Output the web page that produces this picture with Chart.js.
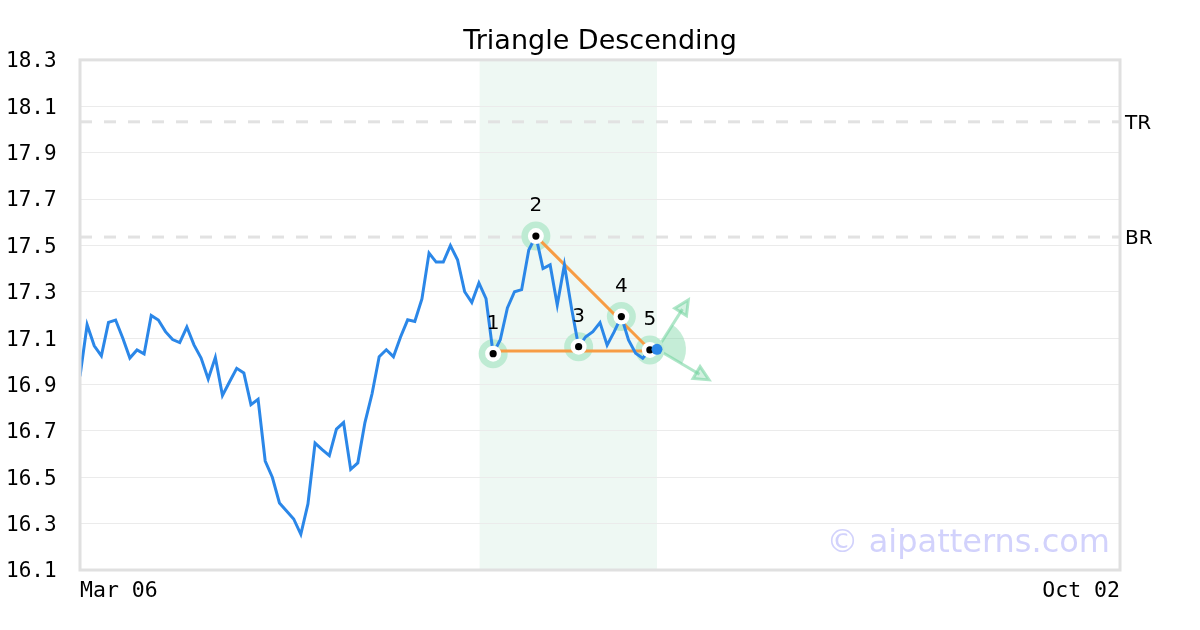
<!DOCTYPE html>
<html>
<head>
<meta charset="utf-8">
<script src="https://cdn.jsdelivr.net/npm/chart.js@4/dist/chart.umd.min.js"></script>
<style>
  html, body { margin: 0; padding: 0; background: #fff; }
  #wrap { width: 1200px; height: 630px; }
</style>
</head>
<body>
<div id="wrap"><canvas id="myChart" width="1200" height="630"></canvas></div>
<script>
// price series, one value per trading day (index 0 = Mar 06)
let prices = [
  16.935, 17.158, 17.067, 17.024, 17.168, 17.178, 17.101, 17.014, 17.049, 17.032,
  17.198, 17.178, 17.128, 17.094, 17.081, 17.148, 17.071, 17.014, 16.924, 17.017,
  16.853, 16.912, 16.970, 16.950, 16.813, 16.836, 16.570, 16.500, 16.389, 16.354,
  16.320, 16.254, 16.385, 16.647, 16.619, 16.593, 16.708, 16.736, 16.534, 16.562,
  16.736, 16.860, 17.020, 17.050, 17.020, 17.105, 17.179, 17.172, 17.269, 17.467,
  17.428, 17.428, 17.499, 17.438, 17.300, 17.254, 17.338, 17.270, 17.033, 17.093,
  17.230, 17.300, 17.309, 17.480, 17.540, 17.400, 17.416, 17.243, 17.416, 17.230,
  17.063, 17.106, 17.128, 17.167, 17.070, 17.128, 17.193, 17.092, 17.035, 17.013,
  17.049, 17.052
];
let lastIndex = 146;            // Oct 02
let xTickLabels = ['Mar 06', 'Oct 02'];
let yMin = 16.1, yMax = 18.3, yStep = 0.2;

// pattern pivots
let pivotIdx = [58, 64, 70, 76, 80];
let pivotVal = [17.033, 17.54, 17.063, 17.193, 17.049];
let pivotLabels = ['1', '2', '3', '4', '5'];

// triangle lines
let supportLine = [[58, 17.045], [80, 17.045]];
let resistLine = [[64, 17.54], [80, 17.05]];

// horizontal levels
let levelNames = ['TR', 'BR'];
let levelVals = [18.033, 17.536];

// highlighted window and breakout arrows
let boxStart = 56.1, boxEnd = 81;
let arrowTips = [[85.4, 17.265], [88.3, 16.92]];

let series = prices.map(function (v, i) { return {x: i, y: v}; });
let pivots = pivotIdx.map(function (x, i) { return {x: x, y: pivotVal[i]}; });
let lastPoint = [{x: prices.length - 1, y: prices[prices.length - 1]}];

function toPts(arr) { return arr.map(function (p) { return {x: p[0], y: p[1]}; }); }

function drawArrow(ctx, x0, y0, x1, y1) {
  let a = Math.atan2(y1 - y0, x1 - x0);
  ctx.beginPath();
  ctx.moveTo(x0, y0);
  ctx.lineTo(x1 - 11 * Math.cos(a), y1 - 11 * Math.sin(a));
  ctx.stroke();
  ctx.beginPath();
  ctx.moveTo(x1, y1);
  ctx.lineTo(x1 - 16 * Math.cos(a - 0.45), y1 - 16 * Math.sin(a - 0.45));
  ctx.lineTo(x1 - 16 * Math.cos(a + 0.45), y1 - 16 * Math.sin(a + 0.45));
  ctx.closePath();
  ctx.fill();
  ctx.stroke();
}

let patternPlugin = {
  id: 'pattern',
  beforeDraw(chart) {
    let {ctx, chartArea: area, scales: {x}} = chart;
    let x0 = x.getPixelForValue(boxStart), x1 = x.getPixelForValue(boxEnd);
    ctx.save();
    ctx.fillStyle = '#eef8f3';
    ctx.fillRect(x0, area.top, x1 - x0, area.bottom - area.top);
    ctx.restore();
  },
  beforeDatasetsDraw(chart) {
    let {ctx, chartArea: area, scales: {x, y}} = chart;
    ctx.save();
    // dashed levels
    ctx.strokeStyle = '#e2e2e2';
    ctx.lineWidth = 3;
    ctx.setLineDash([12, 12]);
    levelVals.forEach(function (v) {
      let py = y.getPixelForValue(v);
      ctx.beginPath();
      ctx.moveTo(area.left, py);
      ctx.lineTo(area.right, py);
      ctx.stroke();
    });
    ctx.setLineDash([]);

    // breakout cone + arrows
    let cx = x.getPixelForValue(lastPoint[0].x), cy = y.getPixelForValue(lastPoint[0].y);
    let tips = arrowTips.map(function (t) { return [x.getPixelForValue(t[0]), y.getPixelForValue(t[1])]; });
    let a0 = Math.atan2(tips[0][1] - cy, tips[0][0] - cx);
    let a1 = Math.atan2(tips[1][1] - cy, tips[1][0] - cx);
    ctx.fillStyle = 'rgba(110, 210, 155, 0.4)';
    ctx.beginPath();
    ctx.moveTo(cx, cy);
    ctx.arc(cx, cy, 29, a0, a1);
    ctx.closePath();
    ctx.fill();

    ctx.strokeStyle = 'rgba(110, 210, 155, 0.55)';
    ctx.fillStyle = 'rgba(110, 210, 155, 0.3)';
    ctx.lineWidth = 3;
    tips.forEach(function (t) { drawArrow(ctx, cx, cy, t[0], t[1]); });
    ctx.restore();
  },
  afterDatasetsDraw(chart) {
    let {ctx, chartArea: area, scales: {x, y}} = chart;
    ctx.save();
    // pivot numbers
    ctx.fillStyle = '#000';
    ctx.font = '20px "DejaVu Sans"';
    ctx.textAlign = 'center';
    ctx.textBaseline = 'middle';
    pivots.forEach(function (p, i) {
      ctx.fillText(pivotLabels[i], x.getPixelForValue(p.x), y.getPixelForValue(p.y) - 30);
    });

    // watermark
    ctx.fillStyle = '#d2d2fc';
    ctx.font = '32px "DejaVu Sans"';
    ctx.textAlign = 'right';
    ctx.textBaseline = 'alphabetic';
    ctx.fillText('\u00a9 aipatterns.com', area.right - 10, area.bottom - 18);
    ctx.restore();
  },
  afterDraw(chart) {
    let {ctx, chartArea: area, scales: {y}} = chart;
    ctx.save();
    ctx.strokeStyle = '#e0e0e0';
    ctx.lineWidth = 3;
    ctx.strokeRect(area.left, area.top, area.right - area.left, area.bottom - area.top);

    ctx.fillStyle = '#000';
    ctx.font = '20px "DejaVu Sans"';
    ctx.textAlign = 'left';
    ctx.textBaseline = 'middle';
    levelVals.forEach(function (v, i) {
      ctx.fillText(levelNames[i], area.right + 5, y.getPixelForValue(v) + 2);
    });
    ctx.restore();
  }
};

let green = 'rgb(190, 235, 211)';
let orange = 'rgb(247, 156, 68)';
let blue = 'rgb(43, 135, 232)';

let myChart = document.getElementById('myChart').getContext('2d');

let patternChart = new Chart(myChart, {
  type: 'line',
  data: {
    datasets: [{
      type: 'scatter',
      data: lastPoint,
      pointRadius: 5.5,
      pointBackgroundColor: blue,
      pointBorderWidth: 0,
      order: 0
    }, {
      type: 'scatter',
      data: pivots,
      pointRadius: 3.6,
      pointBackgroundColor: '#000',
      pointBorderWidth: 0,
      order: 1
    }, {
      type: 'scatter',
      data: pivots,
      pointRadius: 8,
      pointBackgroundColor: '#fff',
      pointBorderWidth: 0,
      order: 2
    }, {
      data: series,
      borderColor: blue,
      borderWidth: 3,
      pointRadius: 0,
      tension: 0,
      order: 3
    }, {
      data: toPts(supportLine),
      borderColor: orange,
      borderWidth: 3,
      pointRadius: 0,
      order: 4
    }, {
      data: toPts(resistLine),
      borderColor: orange,
      borderWidth: 3,
      pointRadius: 0,
      order: 4
    }, {
      type: 'scatter',
      data: pivots,
      pointRadius: 14.5,
      pointBackgroundColor: green,
      pointBorderWidth: 0,
      order: 5
    }]
  },
  options: {
    responsive: false,
    animation: false,
    layout: { padding: { left: 6, right: 6, top: 0, bottom: 0 } },
    plugins: {
      legend: { display: false },
      tooltip: { enabled: false },
      title: {
        display: true,
        text: 'Triangle Descending',
        color: '#000',
        font: { family: 'DejaVu Sans', size: 27, weight: 'normal' },
        padding: { top: 26, bottom: 1.5 }
      }
    },
    scales: {
      x: {
        type: 'linear',
        min: 0,
        max: lastIndex,
        grid: { display: false },
        border: { display: false },
        afterBuildTicks: function (scale) {
          scale.ticks = [{value: 0}, {value: lastIndex}];
        },
        afterFit: function (scale) { scale.height = 60; },
        ticks: {
          autoSkip: false,
          maxRotation: 0,
          align: 'inner',
          padding: 1,
          color: '#000',
          font: { family: 'DejaVu Sans Mono', size: 21.5 },
          callback: function (v, i) { return xTickLabels[i]; }
        }
      },
      y: {
        min: yMin,
        max: yMax,
        grid: { color: '#ebebeb', lineWidth: 1, drawTicks: false },
        border: { display: false },
        afterFit: function (scale) { scale.width = 74; },
        ticks: {
          stepSize: yStep,
          crossAlign: 'far',
          labelOffset: 2,
          color: '#000',
          font: { family: 'DejaVu Sans Mono', size: 21 },
          callback: function (v) { return v.toFixed(1); }
        }
      },
      // empty right-hand band that holds the TR / BR labels
      yRight: {
        position: 'right',
        min: yMin,
        max: yMax,
        grid: { display: false },
        border: { display: false },
        ticks: { display: false },
        afterFit: function (scale) { scale.width = 74; }
      }
    }
  },
  plugins: [patternPlugin]
});
</script>
</body>
</html>
